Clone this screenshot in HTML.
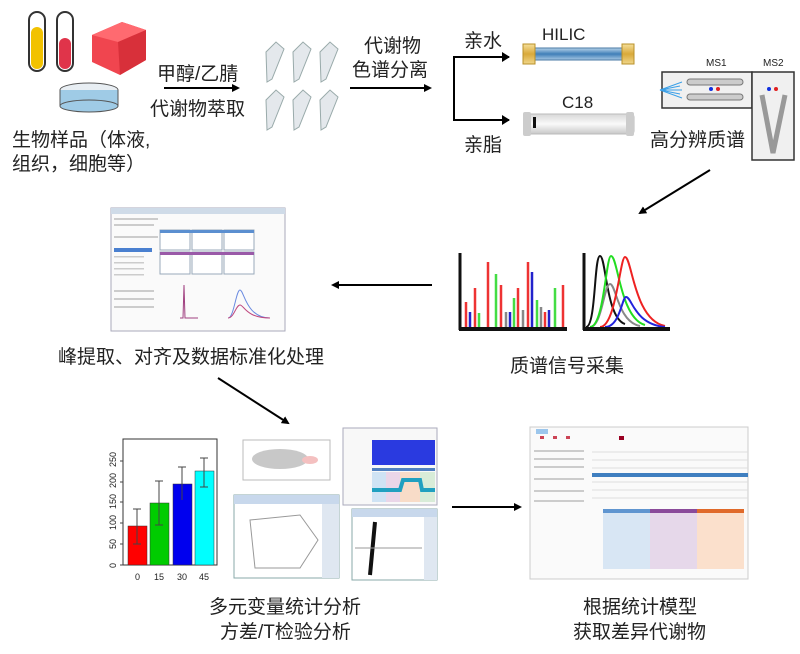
<!DOCTYPE html>
<html><head><meta charset="utf-8"><style>
html,body{margin:0;padding:0;background:#fff;}
svg{display:block;}
text{font-family:"Liberation Sans","Noto Sans CJK SC",sans-serif;fill:#222;}
.cn{font-size:19px;}
</style></head><body>
<svg width="800" height="654" viewBox="0 0 800 654" xmlns="http://www.w3.org/2000/svg">
<defs>
<marker id="ah" markerWidth="8" markerHeight="8" refX="6" refY="4" orient="auto" markerUnits="userSpaceOnUse"><path d="M0,0 L8,4 L0,8 z" fill="#000"/></marker>
<linearGradient id="hil" x1="0" y1="0" x2="0" y2="1"><stop offset="0" stop-color="#b8d4ea"/><stop offset="0.5" stop-color="#3f7fb8"/><stop offset="1" stop-color="#a8c8e4"/></linearGradient>
<linearGradient id="gold" x1="0" y1="0" x2="0" y2="1"><stop offset="0" stop-color="#f5df9a"/><stop offset="0.5" stop-color="#d9a93a"/><stop offset="1" stop-color="#f0d68a"/></linearGradient>
<linearGradient id="c18" x1="0" y1="0" x2="0" y2="1"><stop offset="0" stop-color="#d8d8d8"/><stop offset="0.5" stop-color="#fafafa"/><stop offset="1" stop-color="#c8c8c8"/></linearGradient>
</defs>

<!-- tubes -->
<rect x="29" y="12" width="16" height="59" rx="8" fill="#fff" stroke="#333" stroke-width="2"/>
<rect x="31" y="27" width="12" height="42" rx="6" fill="#f2c200"/>
<rect x="57" y="12" width="16" height="59" rx="8" fill="#fff" stroke="#333" stroke-width="2"/>
<rect x="59" y="38" width="12" height="31" rx="6" fill="#e0344a"/>
<path d="M92,35 L122,22 L146,30 L146,60 L120,75 L92,62 z" fill="#f0454f"/>
<path d="M92,35 L122,22 L146,30 L118,42 z" fill="#ff6a70"/>
<path d="M118,42 L146,30 L146,60 L120,75 z" fill="#d8303a"/>
<ellipse cx="89" cy="90" rx="29" ry="7" fill="#e8eef3" stroke="#555"/>
<rect x="60" y="90" width="58" height="16" fill="#9fcbe6"/>
<ellipse cx="89" cy="106" rx="29" ry="6" fill="#9fcbe6" stroke="#555"/>
<line x1="60" y1="90" x2="60" y2="106" stroke="#555"/><line x1="118" y1="90" x2="118" y2="106" stroke="#555"/>

<text class="cn" x="12" y="146">生物样品（体液,</text>
<text class="cn" x="12" y="170">组织，细胞等）</text>

<text class="cn" x="157" y="80">甲醇/乙腈</text>
<line x1="164" y1="88" x2="238" y2="88" stroke="#000" stroke-width="2" marker-end="url(#ah)"/>
<text class="cn" x="150" y="115">代谢物萃取</text>

<g fill="#e4e8ec" stroke="#9aa" stroke-width="1">
<path d="M266,52 l10,-10 l8,7 l-12,30 l-5,3 z"/><path d="M293,52 l10,-10 l8,7 l-12,30 l-5,3 z"/><path d="M320,52 l10,-10 l8,7 l-12,30 l-5,3 z"/>
<path d="M266,100 l10,-10 l8,7 l-12,30 l-5,3 z"/><path d="M293,100 l10,-10 l8,7 l-12,30 l-5,3 z"/><path d="M320,100 l10,-10 l8,7 l-12,30 l-5,3 z"/>
</g>

<text class="cn" x="364" y="52">代谢物</text>
<text class="cn" x="352" y="76">色谱分离</text>
<line x1="350" y1="88" x2="430" y2="88" stroke="#000" stroke-width="2" marker-end="url(#ah)"/>

<polyline points="509,57 454,57 454,120 509,120" fill="none" stroke="#000" stroke-width="2"/>
<path d="M502,52 L510,57 L502,62 z"/><path d="M502,115 L510,120 L502,125 z"/>
<text class="cn" x="464" y="47">亲水</text>
<text class="cn" x="464" y="151">亲脂</text>

<text x="542" y="40" font-size="17">HILIC</text>
<rect x="532" y="48" width="92" height="12" fill="url(#hil)" stroke="#4a7aa4"/>
<rect x="523" y="44" width="12" height="20" fill="url(#gold)" stroke="#b8902a"/>
<rect x="622" y="44" width="12" height="20" fill="url(#gold)" stroke="#b8902a"/>
<text x="562" y="108" font-size="17">C18</text>
<rect x="524" y="114" width="110" height="20" rx="3" fill="url(#c18)" stroke="#bbb"/>
<rect x="523" y="112" width="8" height="24" rx="2" fill="#ccc"/><rect x="626" y="112" width="8" height="24" rx="2" fill="#ccc"/>
<rect x="533" y="117" width="3" height="11" fill="#111"/>

<text x="706" y="66" font-size="10">MS1</text><text x="763" y="66" font-size="10">MS2</text>
<rect x="662" y="72" width="90" height="36" fill="#f0f0f0" stroke="#333" stroke-width="1.5"/>
<rect x="752" y="72" width="42" height="88" fill="#f0f0f0" stroke="#333" stroke-width="1.5"/>
<rect x="687" y="79" width="56" height="6" rx="3" fill="#ccc" stroke="#777"/>
<rect x="687" y="94" width="56" height="6" rx="3" fill="#ccc" stroke="#777"/>
<circle cx="711" cy="89" r="2" fill="#1030e0"/><circle cx="718" cy="89" r="2" fill="#e02020"/>
<circle cx="769" cy="89" r="2" fill="#1030e0"/><circle cx="776" cy="89" r="2" fill="#e02020"/>
<path d="M762,95 L773,153 L785,95" fill="none" stroke="#999" stroke-width="5"/>
<g stroke="#3aa0e8" stroke-width="1"><line x1="660" y1="90" x2="682" y2="82"/><line x1="660" y1="90" x2="682" y2="90"/><line x1="660" y1="90" x2="682" y2="98"/><line x1="660" y1="90" x2="680" y2="86"/><line x1="660" y1="90" x2="680" y2="94"/></g>
<text class="cn" x="650" y="146">高分辨质谱</text>

<line x1="710" y1="170" x2="640" y2="213" stroke="#000" stroke-width="2" marker-end="url(#ah)"/>

<g stroke-width="2.5">
<line x1="466" y1="302" x2="466" y2="328" stroke="#e33"/><line x1="470" y1="312" x2="470" y2="328" stroke="#22c"/>
<line x1="475" y1="288" x2="475" y2="328" stroke="#e33"/><line x1="479" y1="313" x2="479" y2="328" stroke="#4d4"/>
<line x1="488" y1="262" x2="488" y2="328" stroke="#e33"/><line x1="496" y1="274" x2="496" y2="328" stroke="#4d4"/>
<line x1="501" y1="285" x2="501" y2="328" stroke="#e33"/><line x1="506" y1="312" x2="506" y2="328" stroke="#888"/>
<line x1="510" y1="312" x2="510" y2="328" stroke="#22c"/><line x1="514" y1="298" x2="514" y2="328" stroke="#4d4"/>
<line x1="518" y1="288" x2="518" y2="328" stroke="#e33"/><line x1="523" y1="310" x2="523" y2="328" stroke="#888"/>
<line x1="528" y1="262" x2="528" y2="328" stroke="#e33"/><line x1="532" y1="272" x2="532" y2="328" stroke="#22c"/>
<line x1="537" y1="300" x2="537" y2="328" stroke="#4d4"/><line x1="541" y1="307" x2="541" y2="328" stroke="#888"/>
<line x1="545" y1="312" x2="545" y2="328" stroke="#e33"/><line x1="549" y1="310" x2="549" y2="328" stroke="#22c"/>
<line x1="555" y1="288" x2="555" y2="328" stroke="#4d4"/><line x1="563" y1="285" x2="563" y2="328" stroke="#e33"/>
</g>
<line x1="460" y1="253" x2="460" y2="330" stroke="#111" stroke-width="3"/>
<line x1="459" y1="329" x2="567" y2="329" stroke="#111" stroke-width="4"/>
<g fill="none" stroke-width="2">
<path d="M586,327 C596,327 594,256 600,256 C606,256 606,318 625,324" stroke="#111"/>
<path d="M590,327 C602,327 604,284 610,284 C616,284 618,322 640,326" stroke="#888"/>
<path d="M590,327 C604,327 606,256 611,256 C618,256 620,318 645,325" stroke="#2d2"/>
<path d="M600,327 C616,327 620,257 625,257 C632,257 634,320 665,326" stroke="#e22"/>
<path d="M605,327 C620,327 622,297 626,297 C632,297 634,324 665,327" stroke="#22d"/>
</g>
<line x1="584" y1="253" x2="584" y2="330" stroke="#111" stroke-width="3"/>
<line x1="583" y1="329" x2="670" y2="329" stroke="#111" stroke-width="4"/>

<text class="cn" x="510" y="372">质谱信号采集</text>

<line x1="432" y1="285" x2="333" y2="285" stroke="#000" stroke-width="2" marker-end="url(#ah)"/>

<rect x="111" y="208" width="174" height="123" fill="#fafafa" stroke="#aab"/>
<rect x="111" y="208" width="174" height="6" fill="#cfdbe8"/>
<g fill="#ccc"><rect x="114" y="218" width="44" height="2"/><rect x="114" y="224" width="40" height="2"/><rect x="114" y="236" width="44" height="2"/><rect x="114" y="256" width="30" height="1.5"/><rect x="114" y="262" width="30" height="1.5"/><rect x="114" y="268" width="30" height="1.5"/><rect x="114" y="274" width="30" height="1.5"/><rect x="114" y="290" width="40" height="2"/><rect x="114" y="298" width="40" height="2"/><rect x="114" y="306" width="40" height="2"/></g>
<rect x="160" y="230" width="30" height="20" fill="#fff" stroke="#9ab"/><rect x="192" y="230" width="30" height="20" fill="#fff" stroke="#9ab"/><rect x="224" y="230" width="30" height="20" fill="#fff" stroke="#9ab"/>
<rect x="160" y="252" width="30" height="22" fill="#fff" stroke="#9ab"/><rect x="192" y="252" width="30" height="22" fill="#fff" stroke="#9ab"/><rect x="224" y="252" width="30" height="22" fill="#fff" stroke="#9ab"/>
<rect x="160" y="230" width="94" height="3" fill="#5b8fd0"/><rect x="160" y="252" width="94" height="3" fill="#9a5aa8"/>
<rect x="114" y="248" width="38" height="4" fill="#4a80d0"/>
<path d="M180,318 L183,318 L184,285 L185,318 L198,318" fill="none" stroke="#a04080"/>
<path d="M228,318 C234,318 236,290 240,290 C244,290 246,318 270,318" fill="none" stroke="#6a8ae0"/>
<path d="M228,318 C234,318 236,305 240,305 C244,305 246,318 270,318" fill="none" stroke="#c04a80"/>
<text class="cn" x="58" y="363">峰提取、对齐及数据标准化处理</text>

<line x1="218" y1="378" x2="288" y2="423" stroke="#000" stroke-width="2" marker-end="url(#ah)"/>

<rect x="123" y="439" width="94" height="126" fill="none" stroke="#333"/>
<rect x="128" y="526" width="19" height="39" fill="#f00" stroke="#333" stroke-width=".5"/>
<rect x="150" y="503" width="19" height="62" fill="#0c0" stroke="#333" stroke-width=".5"/>
<rect x="173" y="484" width="19" height="81" fill="#00e" stroke="#333" stroke-width=".5"/>
<rect x="195" y="471" width="19" height="94" fill="#0ff" stroke="#333" stroke-width=".5"/>
<g stroke="#444" fill="none">
<path d="M137,509 V544 M133,509 H141 M133,544 H141"/>
<path d="M159,481 V525 M155,481 H163 M155,525 H163"/>
<path d="M182,467 V500 M178,467 H186"/>
<path d="M204,458 V487 M200,458 H208 M200,487 H208"/>
<path d="M120,565 H123 M120,544 H123 M120,523 H123 M120,502 H123 M120,482 H123 M120,461 H123"/>
</g>
<g font-size="9" fill="#333">
<text transform="translate(116,568) rotate(-90)">0</text><text transform="translate(116,549) rotate(-90)">50</text>
<text transform="translate(116,530) rotate(-90)">100</text><text transform="translate(116,509) rotate(-90)">150</text>
<text transform="translate(116,488) rotate(-90)">200</text><text transform="translate(116,467) rotate(-90)">250</text>
<text x="135" y="580">0</text><text x="154" y="580">15</text><text x="177" y="580">30</text><text x="199" y="580">45</text>
</g>

<rect x="243" y="440" width="87" height="40" fill="#fff" stroke="#bbb"/>
<ellipse cx="280" cy="459" rx="28" ry="10" fill="#c8c8c8"/>
<ellipse cx="310" cy="460" rx="8" ry="4" fill="#f4c0c0"/>
<rect x="343" y="428" width="94" height="77" fill="#f8f8f8" stroke="#aab"/>
<rect x="372" y="440" width="63" height="25" fill="#2a3ae0"/>
<rect x="372" y="468" width="63" height="3" fill="#5080c0"/>
<rect x="372" y="472" width="14" height="30" fill="#cfe3f4"/><rect x="386" y="472" width="14" height="30" fill="#ead6e8"/><rect x="400" y="472" width="20" height="30" fill="#f8dcc8"/><rect x="420" y="472" width="15" height="30" fill="#d8ecd8"/>
<path d="M372,490 H400 L403,480 H420 L422,490 H435" stroke="#20a0c0" stroke-width="4" fill="none"/>
<rect x="234" y="495" width="105" height="83" fill="#fff" stroke="#8aa"/>
<rect x="234" y="495" width="105" height="9" fill="#c8d8ec"/>
<rect x="322" y="504" width="17" height="74" fill="#dfe7f1"/>
<path d="M250,520 L300,515 L318,540 L300,568 L255,568 z" fill="none" stroke="#999"/>
<rect x="352" y="509" width="85" height="71" fill="#fff" stroke="#8aa"/>
<rect x="352" y="509" width="85" height="8" fill="#c8d8ec"/>
<rect x="424" y="517" width="13" height="63" fill="#dfe7f1"/>
<path d="M370,575 L375,522" stroke="#111" stroke-width="4"/>
<line x1="355" y1="548" x2="422" y2="548" stroke="#999"/>

<text class="cn" x="209" y="613">多元变量统计分析</text>
<text class="cn" x="220" y="638">方差/T检验分析</text>

<line x1="452" y1="507" x2="520" y2="507" stroke="#000" stroke-width="2" marker-end="url(#ah)"/>

<rect x="530" y="427" width="218" height="152" fill="#fafafa" stroke="#ccc"/>
<rect x="536" y="429" width="12" height="5" fill="#9cc6ec"/>
<g fill="#c45"><rect x="540" y="436" width="4" height="3"/><rect x="553" y="436" width="4" height="3"/><rect x="566" y="436" width="4" height="3"/><rect x="619" y="436" width="5" height="4" fill="#902"/></g>
<g fill="#ccc"><rect x="534" y="450" width="50" height="2"/><rect x="534" y="458" width="50" height="2"/><rect x="534" y="466" width="50" height="2"/><rect x="534" y="478" width="50" height="2"/><rect x="534" y="490" width="50" height="2"/><rect x="534" y="500" width="50" height="2"/></g>
<g stroke="#ddd"><line x1="592" y1="452" x2="748" y2="452"/><line x1="592" y1="460" x2="748" y2="460"/><line x1="592" y1="468" x2="748" y2="468"/><line x1="592" y1="482" x2="748" y2="482"/><line x1="592" y1="490" x2="748" y2="490"/><line x1="592" y1="498" x2="748" y2="498"/></g>
<rect x="592" y="473" width="156" height="4" fill="#3f7fc0"/>
<rect x="603" y="509" width="47" height="60" fill="#d8e6f4"/>
<rect x="650" y="509" width="47" height="60" fill="#e6d8ea"/>
<rect x="697" y="509" width="47" height="60" fill="#fbe0cc"/>
<rect x="603" y="509" width="47" height="4" fill="#5f95d0"/>
<rect x="650" y="509" width="47" height="4" fill="#8a4a9a"/>
<rect x="697" y="509" width="47" height="4" fill="#e06a2a"/>

<text class="cn" x="583" y="613">根据统计模型</text>
<text class="cn" x="573" y="638">获取差异代谢物</text>
</svg>
</body></html>
